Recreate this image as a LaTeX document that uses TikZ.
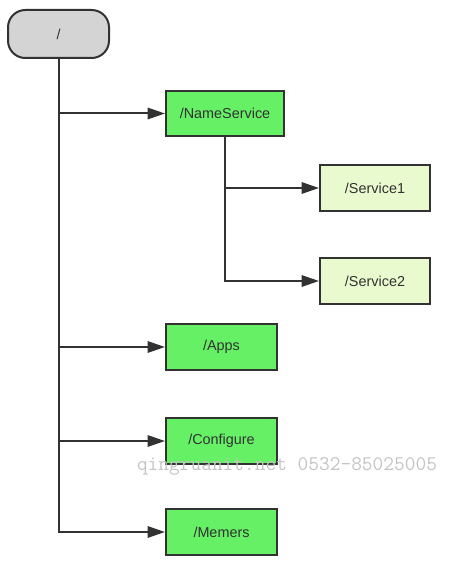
\documentclass[tikz,border=0pt]{standalone}
\usepackage{fontspec}
\setmainfont{Liberation Sans}
\usetikzlibrary{arrows.meta}
\definecolor{boxgreen}{RGB}{102,240,102}
\definecolor{lightgreen}{RGB}{232,250,206}
\definecolor{rootgray}{RGB}{212,212,212}
\definecolor{edge}{RGB}{50,50,50}
\definecolor{wm}{RGB}{196,196,196}
\tikzset{
  base/.style={draw=edge, line width=1.5pt, text=edge, font=\fontsize{10.8}{13}\selectfont, inner sep=0pt},
  rootbox/.style={base, fill=rootgray, rounded corners=13pt, minimum width=75.75pt, minimum height=36pt},
  mainbox/.style={base, fill=boxgreen, minimum width=83.25pt, minimum height=34.5pt},
  nsbox/.style={base, fill=boxgreen, minimum width=88.5pt, minimum height=33.75pt},
  subbox/.style={base, fill=lightgreen, minimum width=82.5pt, minimum height=34.5pt},
  conn/.style={draw=edge, line width=1.5pt},
  arr/.style={conn, -{Triangle[length=13pt, width=8.5pt]}},
}
\begin{document}
\begin{tikzpicture}[x=0.75pt,y=-0.75pt]
\useasboundingbox (0,0) rectangle (453,563);
\node[rootbox] (root) at (58.5,34) {/};
\node[nsbox] (ns) at (225,113.5) {/NameService};
\node[subbox] (s1) at (375,188) {/Service1};
\node[subbox] (s2) at (375,281) {/Service2};
\node[mainbox] (apps) at (221.5,347) {/Apps};
\node[mainbox] (conf) at (221.5,441) {/Configure};
\node[mainbox] (mem) at (221.5,532) {/Memers};
\draw[arr] (root.south) |- (mem.west);
\draw[arr] (root.south |- ns.west) -- (ns.west);
\draw[arr] (root.south |- apps.west) -- (apps.west);
\draw[arr] (root.south |- conf.west) -- (conf.west);
\draw[arr] (ns.south) |- (s2.west);
\draw[arr] (ns.south |- s1.west) -- (s1.west);
\node[text=wm, font=\ttfamily\fontsize{15.6}{18}\selectfont, inner sep=0pt] (wmark) at (287,466) {qingruanit.net 0532-85025005};
\end{tikzpicture}
\end{document}
